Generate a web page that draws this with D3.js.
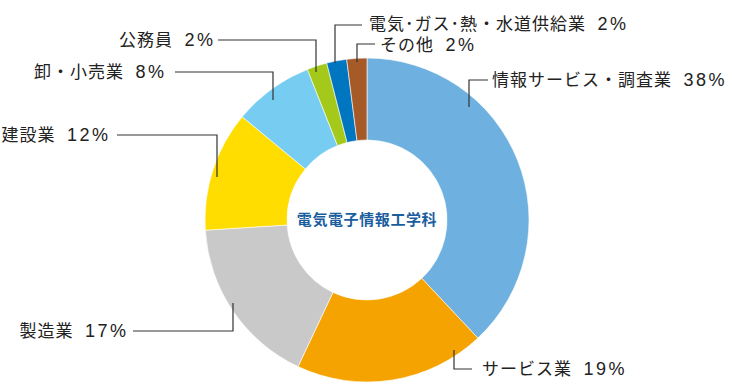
<!DOCTYPE html>
<html>
<head>
<meta charset="utf-8">
<script src="https://cdn.jsdelivr.net/npm/d3@7"></script>
<style>
  body { margin: 0; background: #fff; }
  svg text { font-family: "Noto Sans CJK JP", "Noto Sans", sans-serif; }
  .label { font-size: 17px; fill: #222; }
  .label .name { letter-spacing: 1px; }
  .label .num { font-family: "Liberation Sans", Arial, sans-serif; font-size: 18px; letter-spacing: 2.5px; }
  .leader { fill: none; stroke: #333; stroke-width: 1.2; }
</style>
</head>
<body>
<div id="chart"></div>
<script>
// Data
var categories = ["情報サービス・調査業", "サービス業", "製造業", "建設業", "卸・小売業", "公務員", "電気･ガス･熱・水道供給業", "その他"];
var shares = [38, 19, 17, 12, 8, 2, 2, 2];
var colors = ["#6EB1E0", "#F5A300", "#C9C9C9", "#FFDD00", "#76CDF1", "#A4C91A", "#0075C0", "#A65A28"];
var centerTitle = "電気電子情報工学科";

// Label layout: tx = left edge (start) or right edge (end) of the text,
// leader goes horizontally from hx to the elbow ex at ly, then vertically to endY
var labelLayout = [
  { tx: 492, ty: 80, anchor: "start", hx: 488, ex: 469, ly: 80, endY: 107 },
  { tx: 482, ty: 369, anchor: "start", hx: 472, ex: 454, ly: 369, endY: 350 },
  { tx: 126, ty: 331, anchor: "end", hx: 133, ex: 233, ly: 331, endY: 303 },
  { tx: 108, ty: 135, anchor: "end", hx: 117, ex: 217, ly: 135, endY: 177 },
  { tx: 164, ty: 72, anchor: "end", hx: 175, ex: 273, ly: 72, endY: 100 },
  { tx: 213, ty: 40, anchor: "end", hx: 218, ex: 316, ly: 40, endY: 72 },
  { tx: 369, ty: 24, anchor: "start", hx: 362, ex: 335, ly: 25, endY: 63 },
  { tx: 380, ty: 45, anchor: "start", hx: 375, ex: 357, ly: 44, endY: 62 }
];

var width = 732, height = 392;
var cx = 367, cy = 220, outerR = 162, innerR = 80;

var svg = d3.select("#chart").append("svg")
    .attr("width", width)
    .attr("height", height);

var pie = d3.pie().sort(null).value(function(d) { return d; });
var arc = d3.arc().innerRadius(innerR).outerRadius(outerR);

var g = svg.append("g").attr("transform", "translate(" + cx + "," + cy + ")");

g.selectAll("path.slice")
    .data(pie(shares))
    .enter()
    .append("path")
    .attr("class", "slice")
    .attr("d", arc)
    .attr("fill", function(d, i) { return colors[i]; })
    .attr("stroke", "#fff")
    .attr("stroke-width", 0.6);

g.append("text")
    .attr("text-anchor", "middle")
    .attr("dy", "0.36em")
    .style("font-size", "15px")
    .style("font-weight", "bold")
    .style("letter-spacing", "0.6px")
    .attr("fill", "#1B5E9E")
    .text(centerTitle);

// Leader lines
svg.selectAll("path.leader")
    .data(labelLayout)
    .enter()
    .append("path")
    .attr("class", "leader")
    .attr("d", function(d) {
        return "M" + d.hx + "," + d.ly + "H" + d.ex + "V" + d.endY;
    });

// Labels: name in CJK font, percentage in a latin font
var labels = svg.selectAll("text.label")
    .data(labelLayout)
    .enter()
    .append("text")
    .attr("class", "label")
    .attr("x", function(d) { return d.tx; })
    .attr("y", function(d) { return d.ty; })
    .attr("dy", "0.36em");

labels.append("tspan").attr("class", "name").text(function(d, i) { return categories[i]; });
labels.append("tspan").attr("class", "num").attr("dx", 4).text(function(d, i) { return " " + shares[i] + "%"; });

// right-align the end-anchored labels on their measured width (trailing spacing excluded)
labels.filter(function(d) { return d.anchor === "end"; })
    .attr("x", function(d) {
        return d.tx - this.getComputedTextLength() - 4 + 2.5;
    });
</script>
</body>
</html>
